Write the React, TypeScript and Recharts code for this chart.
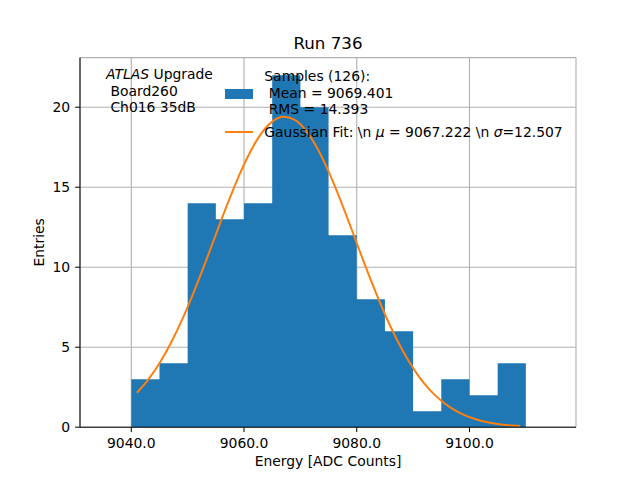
import React from 'react'
import { ComposedChart, Area, Line, CartesianGrid, XAxis, YAxis } from 'recharts';

// histogram bins (width 5) and counts
const binEdges = [9040, 9045, 9050, 9055, 9060, 9065, 9070, 9075, 9080, 9085, 9090, 9095, 9100, 9105, 9110]
const binCounts = [3, 4, 14, 13, 14, 22, 20, 12, 8, 6, 1, 3, 2, 4]

// gaussian fit curve, sampled every 2 ADC counts
const fitX = [9041, 9043, 9045, 9047, 9049, 9051, 9053, 9055, 9057, 9059, 9061, 9063, 9065, 9067, 9069, 9071, 9073, 9075,
  9077, 9079, 9081, 9083, 9085, 9087, 9089, 9091, 9093, 9095, 9097, 9099, 9101, 9103, 9105, 9107, 9109]
const fitY = [2.15, 2.97, 4.0, 5.25, 6.71, 8.37, 10.16, 12.04, 13.89, 15.63, 17.14, 18.33, 19.1, 19.4, 19.21, 18.54, 17.44, 15.99,
  14.29, 12.45, 10.57, 8.75, 7.06, 5.56, 4.26, 3.18, 2.32, 1.65, 1.14, 0.77, 0.51, 0.32, 0.2, 0.12, 0.07]

const xTicks = [9040, 9060, 9080, 9100]
const yTicks = [0, 5, 10, 15, 20]
const xDomain = [9030.9, 9118.9]
const yDomain = [0, 23.1]

const histData = binEdges.map((e, i) => ({ x: e, n: binCounts[i] ?? 0 }))
const fitData = fitX.map((x, i) => ({ x, y: fitY[i] }))

const font = '"DejaVu Sans", sans-serif'
const txt: React.CSSProperties = { position: 'absolute', fontFamily: font, fontSize: 13.9, lineHeight: '16.7px', whiteSpace: 'pre', color: '#000' }

const App: React.FC = () => {
  return (
    <div style={{ position: 'absolute', left: 0, top: 0, width: 640, height: 480, background: '#fff' }}>
      <ComposedChart width={640} height={480} margin={{ top: 57.6, right: 64, bottom: 22.8, left: 20 }} style={{ fontFamily: font }}>
        <XAxis dataKey="x" type="number" domain={xDomain} ticks={xTicks} allowDataOverflow
          tickFormatter={(v: number) => v.toFixed(1)} height={30} tickSize={4.9} tickMargin={6.5}
          stroke="#000" tick={{ fill: '#000', fontSize: 13.9 }} />
        <YAxis type="number" domain={yDomain} ticks={yTicks} allowDataOverflow width={60} tickSize={4.9} tickMargin={4.9}
          stroke="#000" tick={{ fill: '#000', fontSize: 13.9 }} />
        <XAxis xAxisId="top" orientation="top" type="number" domain={xDomain} allowDataOverflow height={0} tick={false} tickLine={false} stroke="#000" />
        <YAxis yAxisId="right" orientation="right" type="number" domain={yDomain} allowDataOverflow width={0} tick={false} tickLine={false} stroke="#000" />
        <Area data={histData} dataKey="n" type="stepAfter" stroke="none" fill="#1f77b4" fillOpacity={1} isAnimationActive={false} />
        <CartesianGrid stroke="#b0b0b0" strokeWidth={1.1} />
        <Line data={fitData} dataKey="y" type="monotone" stroke="#ff7f0e" strokeWidth={2} dot={false} isAnimationActive={false} />
      </ComposedChart>

      <div style={{ ...txt, left: 80, width: 496, top: 33.5, fontSize: 16.67, lineHeight: '20px', textAlign: 'center' }}>Run 736</div>
      <div style={{ ...txt, left: 80, width: 496, top: 452.8, textAlign: 'center' }}>Energy [ADC Counts]</div>
      <div style={{ ...txt, left: -61, top: 234, width: 200, height: 16.7, textAlign: 'center', transform: 'rotate(-90deg)' }}>Entries</div>

      <div style={{ ...txt, left: 106, top: 65.8 }}><i>ATLAS</i>{' Upgrade\n Board260\n Ch016 35dB'}</div>

      <div style={{ position: 'absolute', left: 225, top: 89, width: 28, height: 9.8, background: '#1f77b4' }} />
      <div style={{ ...txt, left: 264.3, top: 67.8 }}>{'Samples (126):\n Mean = 9069.401\n RMS = 14.393'}</div>
      <div style={{ position: 'absolute', left: 225, top: 130.7, width: 28, height: 2, background: '#ff7f0e' }} />
      <div style={{ ...txt, left: 264.3, top: 123.6 }}>{'Gaussian Fit: \\n '}<i>μ</i>{' = 9067.222 \\n '}<i>σ</i>{'=12.507'}</div>
    </div>
  )
}

export default App
